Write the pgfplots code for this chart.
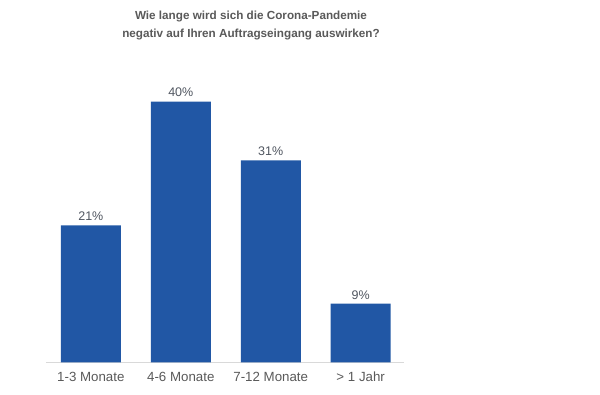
\documentclass[border=0pt]{standalone}
\usepackage{pgfplots}
\pgfplotsset{compat=1.18}
\usepackage{fontspec}
\setmainfont{Liberation Sans}
\definecolor{barblue}{RGB}{33,87,165}
\definecolor{txtgray}{RGB}{89,89,89}
\definecolor{valgray}{RGB}{80,86,96}
\definecolor{basegray}{RGB}{217,217,217}
\begin{document}
\begin{tikzpicture}[x=1pt,y=1pt]
\path[use as bounding box] (0,0) rectangle (600,395);
\node[font=\bfseries\fontsize{11.7}{18}\selectfont, text=txtgray, align=center] at (251,369) {Wie lange wird sich die Corona-Pandemie\\negativ auf Ihren Auftragseingang auswirken?};
\begin{axis}[
  at={(51,50)}, anchor=south west,
  scale only axis,
  width=358pt, height=326pt,
  xmin=-0.5, xmax=3.48,
  ymin=0, ymax=50,
  axis y line=none,
  axis x line*=bottom,
  x axis line style={draw=basegray, line width=0.8pt, -},
  xtick={0,1,2,3},
  xticklabels={1-3 Monate,4-6 Monate,7-12 Monate,{> 1 Jahr}},
  xtick style={draw=none},
  xticklabel style={font=\fontsize{13.3}{15}\selectfont, text=txtgray, yshift=-2pt},
  ybar, bar width=60pt,
  /pgf/number format/assume math mode=true,
  nodes near coords={\pgfmathprintnumber{\pgfplotspointmeta}\%},
  nodes near coords style={font=\fontsize{12.5}{14}\selectfont, text=valgray, yshift=1pt},
  clip=false,
]
\addplot[fill=barblue, draw=none] coordinates {(0,21) (1,40) (2,31) (3,9)};
\end{axis}
\end{tikzpicture}
\end{document}
